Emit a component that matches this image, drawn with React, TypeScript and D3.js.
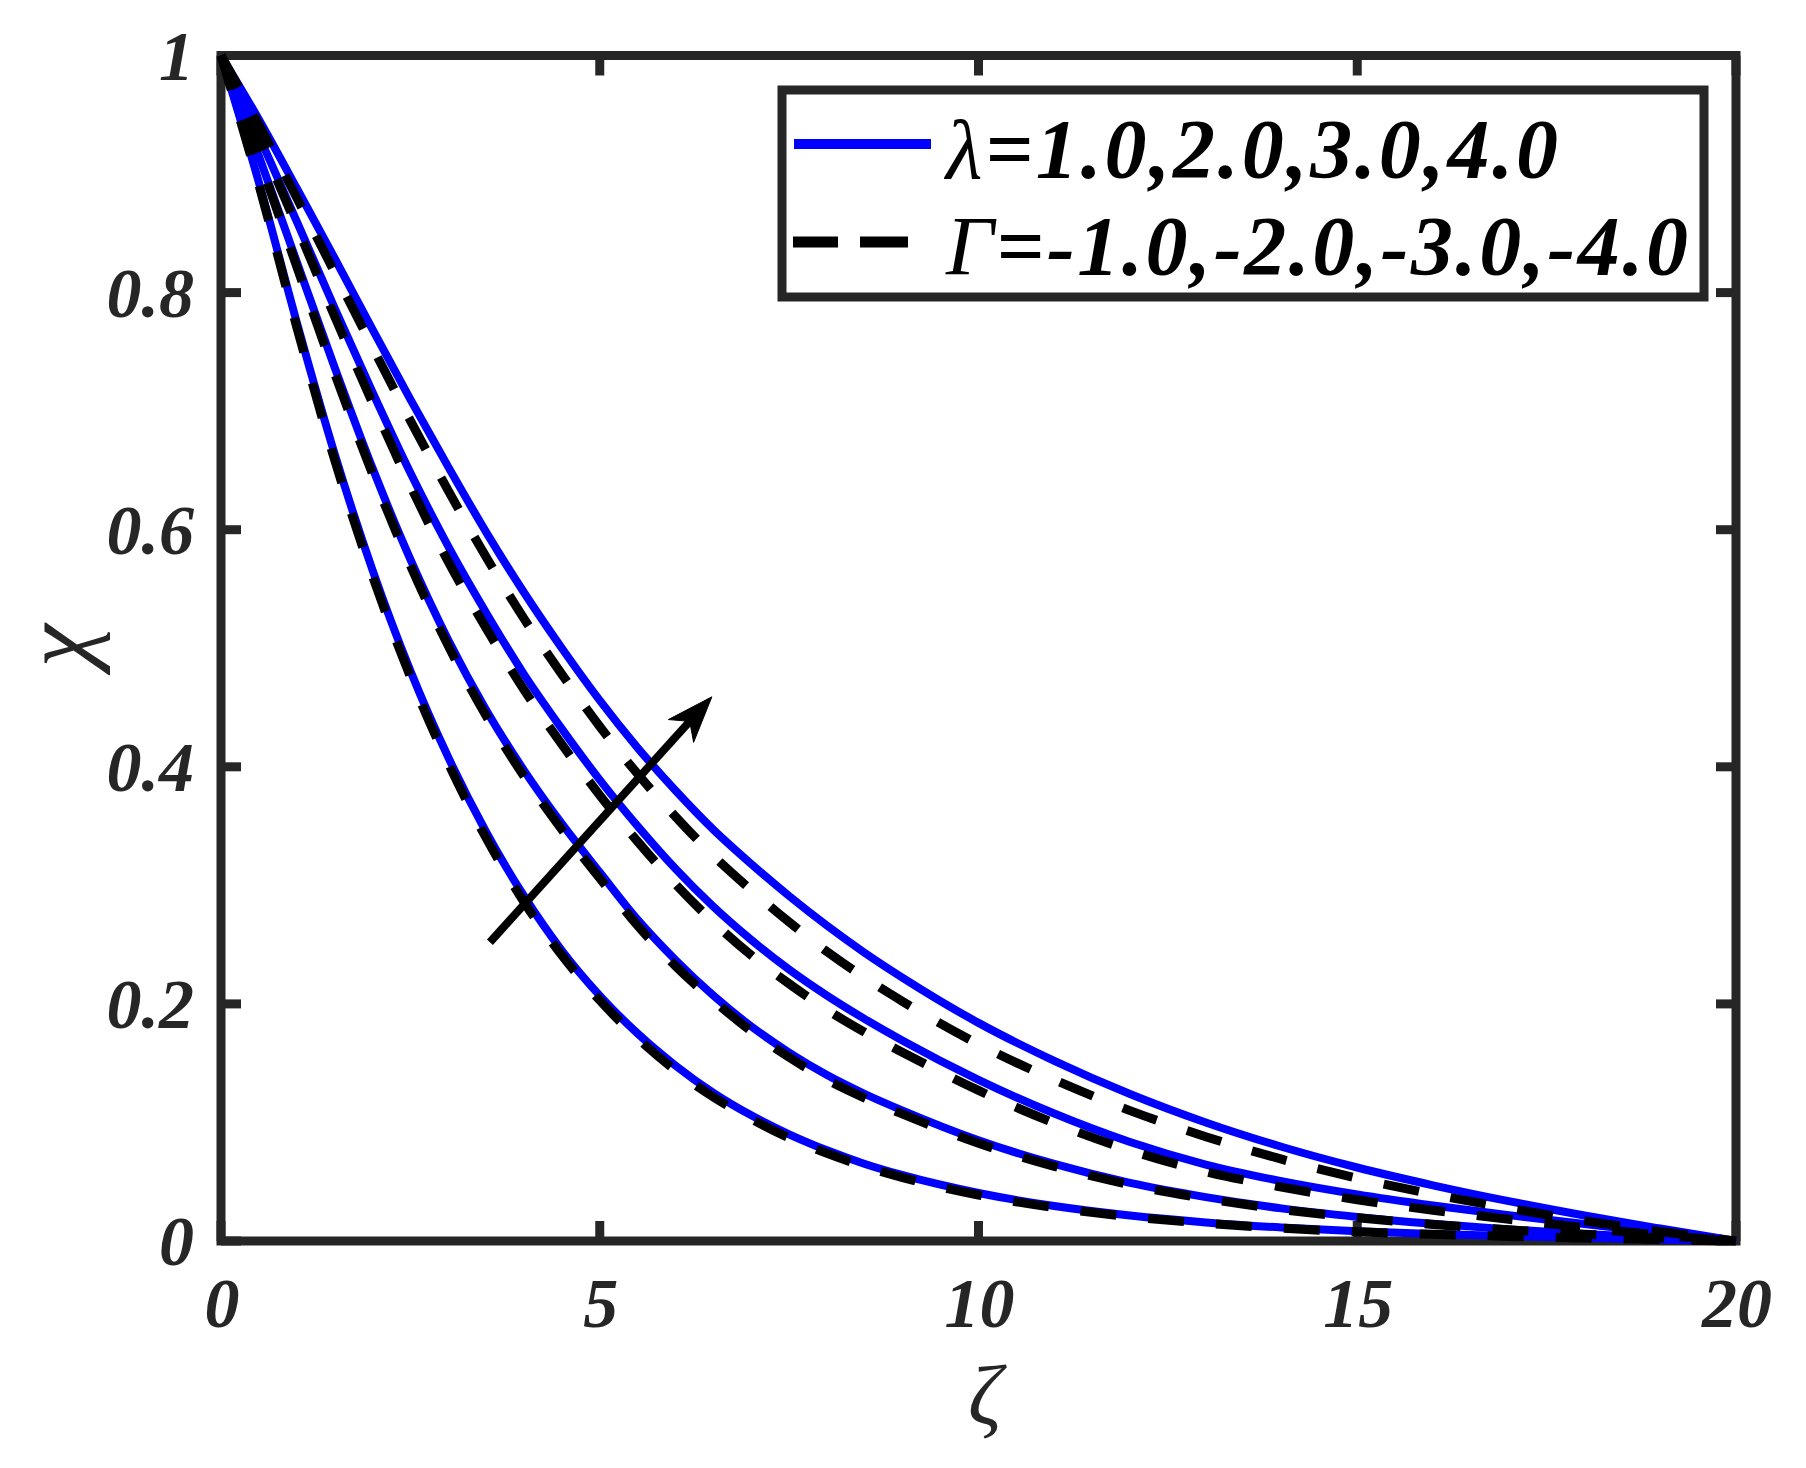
import React from 'react';
import * as d3 from 'd3';

// ζ sample positions
const zeta = [0, 0.5, 1, 1.5, 2, 2.5, 3, 3.5, 4, 4.5, 5, 5.5, 6, 6.5, 7, 7.5, 8, 8.5, 9, 10, 11, 12, 13, 14, 15, 16, 17, 18, 19, 20];

// Solid blue curves (λ = 1, 2, 3, 4)
const lambda1 = [1, 0.893, 0.775, 0.664, 0.566, 0.481, 0.408, 0.345, 0.291, 0.245, 0.207, 0.175, 0.148, 0.125, 0.106, 0.09, 0.0765, 0.065, 0.0555, 0.0405, 0.0295, 0.0215, 0.0157, 0.0114, 0.0083, 0.006, 0.0042, 0.0027, 0.0013, 0];
const lambda2 = [1, 0.915, 0.826, 0.737, 0.652, 0.575, 0.507, 0.448, 0.397, 0.352, 0.311, 0.271, 0.237, 0.207, 0.181, 0.159, 0.14, 0.124, 0.11, 0.085, 0.065, 0.049, 0.037, 0.0275, 0.0203, 0.0145, 0.0098, 0.006, 0.0028, 0];
const lambda3 = [1, 0.932, 0.86, 0.787, 0.716, 0.648, 0.586, 0.53, 0.478, 0.432, 0.389, 0.35, 0.314, 0.282, 0.254, 0.229, 0.207, 0.1872, 0.169, 0.136, 0.1075, 0.0835, 0.0645, 0.0505, 0.0393, 0.03, 0.0218, 0.0143, 0.007, 0];
const lambda4 = [1, 0.946, 0.888, 0.829, 0.769, 0.71, 0.653, 0.598, 0.547, 0.5, 0.456, 0.416, 0.38, 0.347, 0.318, 0.291, 0.266, 0.243, 0.222, 0.184, 0.152, 0.124, 0.1, 0.0795, 0.062, 0.047, 0.0336, 0.0215, 0.0105, 0];

// Dashed black curves (Γ = -1, -2, -3, -4)
const gamma1 = [1, 0.891, 0.771, 0.659, 0.561, 0.476, 0.403, 0.34, 0.286, 0.241, 0.203, 0.171, 0.144, 0.1215, 0.103, 0.087, 0.074, 0.0628, 0.0535, 0.0388, 0.0282, 0.0205, 0.0149, 0.0108, 0.0078, 0.0056, 0.0039, 0.0025, 0.0012, 0];
const gamma2 = [1, 0.913, 0.822, 0.732, 0.647, 0.57, 0.502, 0.443, 0.392, 0.347, 0.306, 0.266, 0.232, 0.203, 0.177, 0.155, 0.136, 0.1205, 0.107, 0.0825, 0.063, 0.0475, 0.0358, 0.0266, 0.0196, 0.014, 0.0094, 0.0057, 0.0026, 0];
const gamma3 = [1, 0.93, 0.856, 0.78, 0.707, 0.637, 0.573, 0.517, 0.465, 0.419, 0.376, 0.337, 0.301, 0.269, 0.241, 0.217, 0.195, 0.176, 0.159, 0.127, 0.0995, 0.0765, 0.0585, 0.0455, 0.0348, 0.026, 0.0183, 0.0113, 0.005, 0];
const gamma4 = [1, 0.942, 0.88, 0.817, 0.754, 0.692, 0.633, 0.577, 0.525, 0.478, 0.434, 0.394, 0.358, 0.325, 0.296, 0.269, 0.244, 0.222, 0.202, 0.166, 0.136, 0.11, 0.088, 0.069, 0.053, 0.0395, 0.0276, 0.017, 0.008, 0];

const solidSeries = [lambda1, lambda2, lambda3, lambda4];
const dashedSeries = [gamma1, gamma2, gamma3, gamma4];

const xTicks = [0, 5, 10, 15, 20];
const xTickLabels = ['0', '5', '10', '15', '20'];
const yTicks = [0, 0.2, 0.4, 0.6, 0.8, 1];
const yTickLabels = ['0', '0.2', '0.4', '0.6', '0.8', '1'];

// Arrow annotation (data coordinates)
const arrowFrom = [3.55, 0.252];
const arrowTo = [6.48, 0.459];

const legendSymbols = ['λ', 'Γ'];
const legendValues = ['=1.0,2.0,3.0,4.0', '=-1.0,-2.0,-3.0,-4.0'];

const FONT = '"Liberation Serif", "Times New Roman", serif';
const AX = '#262626';

export default function App() {
  const W = 1806;
  const H = 1468;
  const x = d3.scaleLinear().domain([0, 20]).range([221, 1736]);
  const y = d3.scaleLinear().domain([0, 1]).range([1241, 55.5]);

  const line = d3
    .line<number>()
    .x((_, i) => x(zeta[i]))
    .y((d) => y(d))
    .curve(d3.curveMonotoneX);

  // arrow geometry
  const tx = x(arrowTo[0]);
  const ty = y(arrowTo[1]);
  const fx = x(arrowFrom[0]);
  const fy = y(arrowFrom[1]);
  const len = Math.hypot(tx - fx, ty - fy);
  const ux = (tx - fx) / len;
  const uy = (ty - fy) / len;
  const nx = -uy;
  const ny = ux;
  const headLen = 46;
  const headHalf = 17;
  const notch = 33;
  const w1 = [tx - headLen * ux + headHalf * nx, ty - headLen * uy + headHalf * ny];
  const w2 = [tx - headLen * ux - headHalf * nx, ty - headLen * uy - headHalf * ny];
  const nb = [tx - notch * ux, ty - notch * uy];

  const [x0, x1] = x.range();
  const [y0, y1] = y.range();

  return (
    <svg
      width={W}
      height={H}
      viewBox={`0 0 ${W} ${H}`}
      style={{ position: 'absolute', left: 0, top: 0, background: '#fff' }}
    >
      <rect x={0} y={0} width={W} height={H} fill="#fff" />
      {/* axes box */}
      <rect x={x0} y={y1} width={x1 - x0} height={y0 - y1} fill="none" stroke={AX} strokeWidth={9} />
      {/* ticks */}
      {xTicks.map((t) => (
        <g key={'xt' + t}>
          <line x1={x(t)} x2={x(t)} y1={y0} y2={y0 - 20} stroke={AX} strokeWidth={9} />
          <line x1={x(t)} x2={x(t)} y1={y1} y2={y1 + 20} stroke={AX} strokeWidth={9} />
        </g>
      ))}
      {yTicks.map((t) => (
        <g key={'yt' + t}>
          <line x1={x0} x2={x0 + 20} y1={y(t)} y2={y(t)} stroke={AX} strokeWidth={9} />
          <line x1={x1} x2={x1 - 20} y1={y(t)} y2={y(t)} stroke={AX} strokeWidth={9} />
        </g>
      ))}
      {/* tick labels */}
      {xTicks.map((t, i) => (
        <text
          key={'xl' + t}
          x={x(t) + 1}
          y={1327}
          textAnchor="middle"
          fontFamily={FONT}
          fontWeight="bold"
          fontStyle="italic"
          fontSize={70}
          fill={AX}
        >
          {xTickLabels[i]}
        </text>
      ))}
      {yTicks.map((t, i) => (
        <text
          key={'yl' + t}
          x={194}
          y={y(t) + 24}
          textAnchor="end"
          fontFamily={FONT}
          fontWeight="bold"
          fontStyle="italic"
          fontSize={70}
          fill={AX}
        >
          {yTickLabels[i]}
        </text>
      ))}
      {/* axis labels */}
      <text
        x={985}
        y={1424}
        textAnchor="middle"
        fontFamily={FONT}
        fontStyle="italic"
        fontSize={84}
        fill={AX}
      >
        ζ
      </text>
      <text
        transform={`translate(89,646) rotate(-90)`}
        textAnchor="middle"
        fontFamily={FONT}
        fontStyle="italic"
        fontSize={98}
        fill={AX}
      >
        χ
      </text>
      {/* curves */}
      {solidSeries.map((s, i) => (
        <path key={'s' + i} d={line(s) || ''} fill="none" stroke="#0000ff" strokeWidth={8} />
      ))}
      {dashedSeries.map((s, i) => (
        <path
          key={'d' + i}
          d={line(s) || ''}
          fill="none"
          stroke="#000"
          strokeWidth={9}
          strokeDasharray="36,32"
        />
      ))}
      {/* arrow */}
      <line x1={fx} y1={fy} x2={nb[0]} y2={nb[1]} stroke="#000" strokeWidth={8} />
      <polygon
        points={`${tx},${ty} ${w1[0]},${w1[1]} ${nb[0]},${nb[1]} ${w2[0]},${w2[1]}`}
        fill="#000"
        stroke="#000"
        strokeWidth={1}
      />
      {/* legend */}
      <rect x={782} y={90} width={922} height={207} fill="#fff" stroke={AX} strokeWidth={9} />
      <line x1={794} x2={931} y1={144} y2={144} stroke="#0000ff" strokeWidth={10} />
      <line x1={793} x2={931} y1={242} y2={242} stroke="#000" strokeWidth={11} strokeDasharray="45,22,48,200" />
      {legendSymbols.map((sym, i) => (
        <text
          key={'lg' + i}
          x={946}
          y={i === 0 ? 178 : 275}
          fontFamily={FONT}
          fontStyle="italic"
          fontSize={84}
          fill="#000"
          textLength={i === 0 ? 612 : 742}
          lengthAdjust="spacing"
        >
          <tspan>{sym}</tspan>
          <tspan fontWeight="bold">{legendValues[i]}</tspan>
        </text>
      ))}
    </svg>
  );
}
